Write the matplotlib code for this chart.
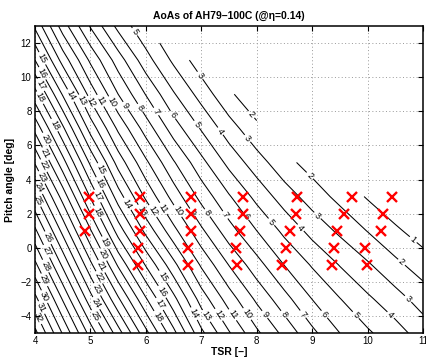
import numpy as np
import matplotlib
matplotlib.use("Agg")
import matplotlib.pyplot as plt

plt.rcParams['font.family'] = ['Liberation Sans', 'DejaVu Sans']

# grid of operating points
tsr = [4.0, 4.5, 5.0, 5.5, 6.0, 6.5, 7.0, 7.5, 8.0, 8.5, 9.0, 9.5, 10.0, 10.5, 11.0]
pitch = [-5, -3, -1, 1, 3, 5, 7, 9, 11, 13]

nan = np.nan
# angle of attack [deg] at eta = 0.14, one row per pitch angle (nan = no solution)
aoa = [
    [33.3, 29.9, 26.6, 23.45, 20.3, 17.3, 14.25, 12.1, 10.2, 8.7, 7.25, 6.0, 5.15, 4.4, 3.55],
    [31.3, 27.9, 24.4, 21.15, 18.1, 15.3, 12.55, 10.5, 8.8, 7.35, 5.98, 5.03, 4.17, 3.4, 2.55],
    [29.25, 25.8, 22.25, 18.85, 15.9, 13.3, 10.85, 8.96, 7.4, 5.97, 4.9, 3.95, 3.13, 2.25, 1.5],
    [27.2, 23.7, 20.1, 16.55, 13.7, 11.3, 9.2, 7.4, 6.0, 4.75, 3.66, 2.8, 1.96, 1.18, 0.5],
    [25.1, 21.6, 17.9, 14.5, 11.8, 9.6, 7.65, 6.1, 4.7, 3.5, 2.55, 1.7, 0.9, 0.2, -0.5],
    [22.9, 19.4, 15.8, 12.6, 10.2, 8.1, 6.3, 4.7, 3.45, 2.35, 1.55, nan, nan, nan, nan],
    [20.7, 17.2, 13.6, 10.8, 8.55, 6.5, 4.9, 3.45, 2.25, nan, nan, nan, nan, nan, nan],
    [18.4, 14.9, 11.6, 9.0, 6.95, 5.1, 3.6, 2.2, 1.15, nan, nan, nan, nan, nan, nan],
    [16.0, 12.6, 9.8, 7.5, 5.4, 3.8, 2.4, nan, nan, nan, nan, nan, nan, nan, nan],
    [13.8, 10.5, 7.9, 5.7, 4.2, nan, nan, nan, nan, nan, nan, nan, nan, nan, nan],
]
levels = list(range(1, 34))

# design points
pts_tsr = [4.98, 4.98, 4.91,
           5.9, 5.9, 5.9, 5.85, 5.85,
           6.81, 6.81, 6.81, 6.76, 6.76,
           7.75, 7.75, 7.69, 7.63, 7.64,
           8.73, 8.7, 8.6, 8.53, 8.46,
           9.72, 9.58, 9.45, 9.39, 9.35,
           10.44, 10.28, 10.25, 9.95, 9.99]
pts_pitch = [3, 2, 1,
             3, 2, 1, 0, -1,
             3, 2, 1, 0, -1,
             3, 2, 1, 0, -1,
             3, 2, 1, 0, -1,
             3, 2, 1, 0, -1,
             3, 2, 1, 0, -1]

# where the contour labels go
label_spots = [
    (4.15, 11.14), (4.15, 10.26), (4.12, 9.58), (4.09, 8.8), (4.3, 7.1), (4.21, 6.4),
    (4.24, 5.6), (4.18, 4.85), (4.09, 4.07), (4.06, 3.49), (4.06, 2.8), (4.18, 0.5),
    (4.21, -0.2), (4.18, -1.09), (4.12, -1.96), (4.18, -2.85), (4.12, -3.5), (4.06, -4.1),
    (4.63, 8.9), (4.84, 8.6), (4.99, 8.5), (5.17, 8.6), (5.38, 8.5), (5.62, 8.3),
    (5.89, 8.2), (6.19, 8.0), (6.49, 7.8), (6.88, 7.14),
    (5.77, 12.6), (6.91, 9.95), (7.9, 7.8), (7.33, 6.8), (7.83, 6.4), (8.95, 4.2),
    (5.17, 4.56), (5.11, 3.68), (5.11, 3.0), (5.08, 2.02),
    (5.68, 2.6), (5.89, 2.1), (6.1, 2.1), (6.31, 2.3), (6.55, 2.1), (6.8, 2.0),
    (7.09, 2.0), (7.42, 1.9), (7.78, 1.8), (8.26, 1.5), (8.77, 1.1), (9.07, 1.8),
    (5.26, 0.28), (5.23, -0.4), (5.2, -1.09), (5.14, -1.77), (5.11, -2.46), (5.11, -3.24), (5.08, -4.02),
    (6.25, -1.8), (6.25, -2.67), (6.22, -3.35), (6.19, -4.1),
    (6.88, -3.85), (7.09, -4.0), (7.33, -3.9), (7.58, -3.9), (7.82, -3.9), (8.15, -3.9),
    (8.49, -3.9), (8.83, -3.9), (9.22, -3.9), (9.77, -4.0), (10.4, -4.0),
    (10.76, -2.9), (10.6, -0.9), (10.82, 0.46),
]

fig = plt.figure(figsize=(4.27, 3.59), dpi=100)
ax = fig.add_axes([0.082, 0.0724, 0.9086, 0.8552])

z = np.ma.masked_invalid(np.array(aoa))
cs = ax.contour(tsr, pitch, z, levels=levels, colors='k', linewidths=0.75)
ax.clabel(cs, manual=label_spots, fmt='%d', fontsize=6.5, inline=True, inline_spacing=2)

ax.plot(pts_tsr, pts_pitch, 'x', color='red', markersize=7, markeredgewidth=1.7,
        linestyle='none', zorder=5)

ax.set_xlim(4, 11)
ax.set_ylim(-5, 13)
ax.set_xticks(range(4, 12))
ax.set_yticks(range(-4, 13, 2))
ax.grid(True, linestyle=(0, (1, 2.5)), color='0.6', linewidth=0.7)
ax.tick_params(direction='in', top=True, right=True, length=3.5, width=0.8,
               labelsize=7, pad=2.5)
for s in ax.spines.values():
    s.set_linewidth(1.1)

ax.set_title('AoAs of AH79\u2013100C (@\u03b7=0.14)', fontsize=7.5, fontweight='bold', pad=5)
ax.set_xlabel('TSR [\u2013]', fontsize=7.5, fontweight='bold', labelpad=0.5)
ax.set_ylabel('Pitch angle [deg]', fontsize=7.5, fontweight='bold', labelpad=4)

fig.savefig('out.png', dpi=100)
